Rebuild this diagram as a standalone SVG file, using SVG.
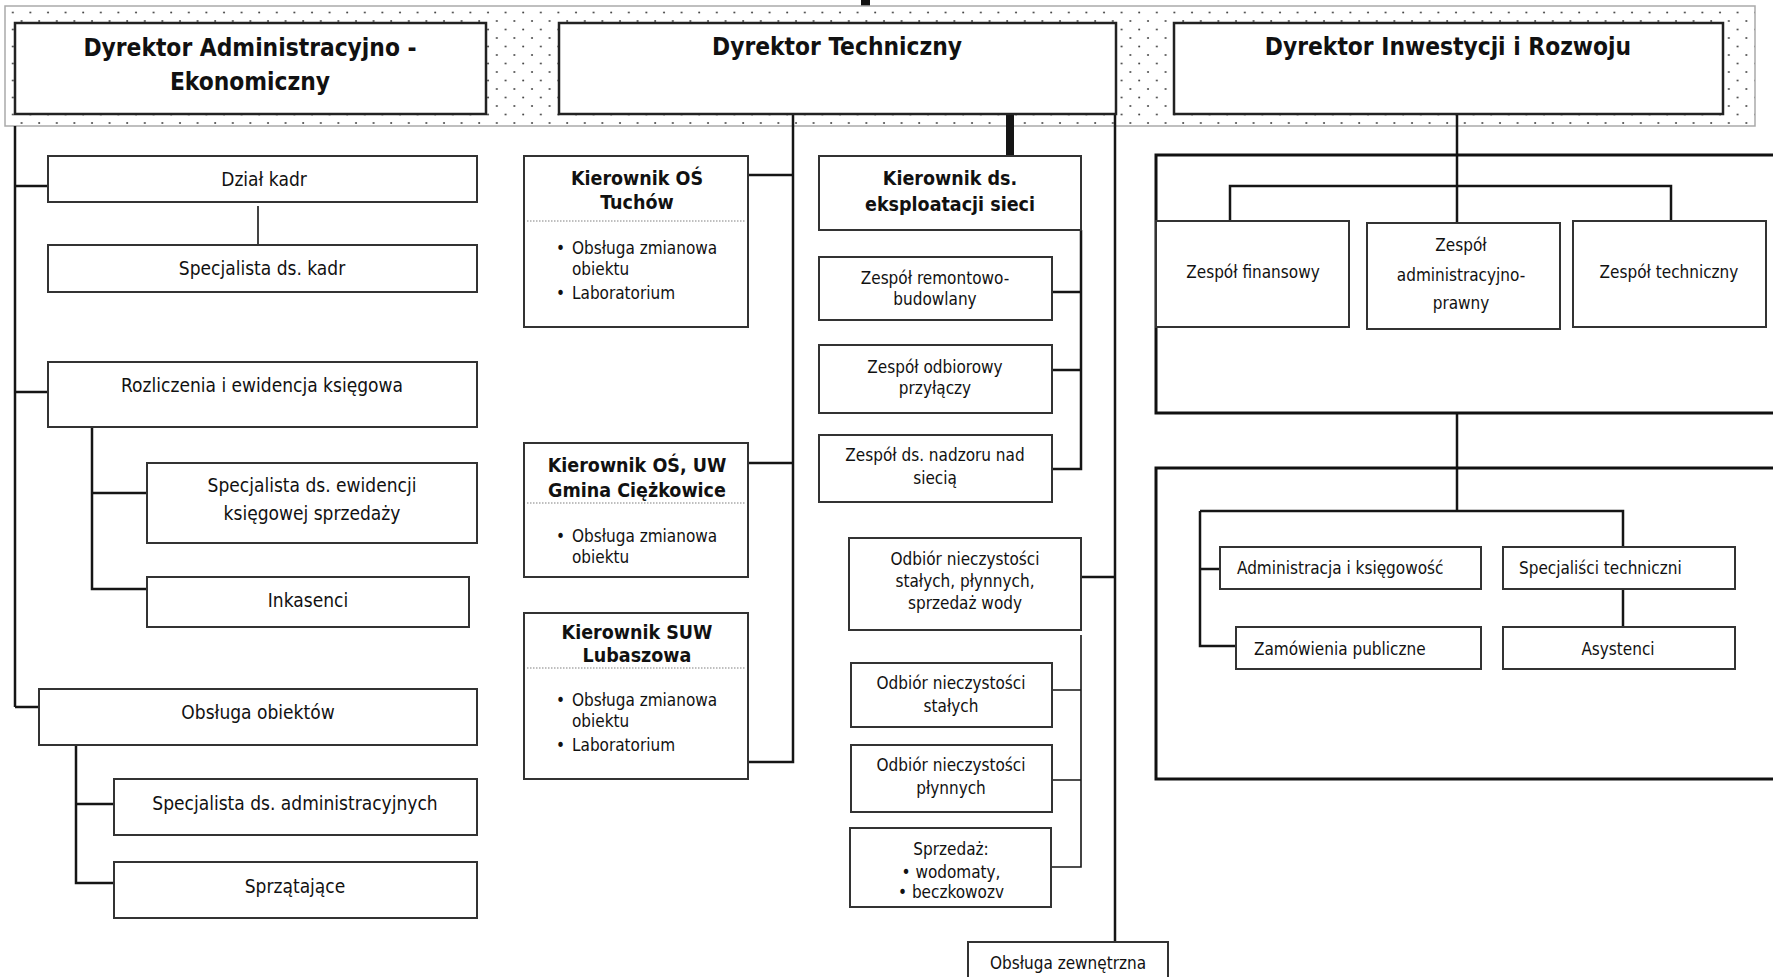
<svg xmlns="http://www.w3.org/2000/svg" width="1773" height="977" viewBox="0 0 1773 977">
<style>
text{font-family:'DejaVu Sans Condensed','DejaVu Sans',sans-serif;font-stretch:condensed;fill:#111}
.t19{font-size:19px;text-anchor:middle}
.t17{font-size:17px;text-anchor:middle}
.l17{font-size:17px}
.hb{font-size:24.3px;font-weight:bold;text-anchor:middle}
.kb{font-size:19.5px;font-weight:bold;text-anchor:middle}
.box{fill:#fff;stroke:#333;stroke-width:2}
.hbox{fill:#fff;stroke:#222;stroke-width:2.5}
.big{fill:none;stroke:#111;stroke-width:3}
.sep{stroke:#aaa;stroke-width:1.5;stroke-dasharray:1.5 1.5}
#connectors path{fill:none;stroke:#151515;stroke-width:2.5}
#connectors .thin{stroke-width:1.6}
#connectors .thick{stroke-width:8}
</style>
<defs>
<pattern id="dots" width="17.6" height="17" patternUnits="userSpaceOnUse">
<rect width="17.6" height="17" fill="#fff"/>
<circle cx="4" cy="4" r="1" fill="#444"/>
<circle cx="12.8" cy="12.5" r="1" fill="#444"/>
</pattern>
</defs>
<rect width="1773" height="977" fill="#fff"/>
<rect x="861" y="0" width="9" height="7" fill="#111"/>
<rect id="band" x="5" y="6" width="1750" height="120" fill="url(#dots)" stroke="#aaa" stroke-width="1.5"/>

<g id="connectors">
<path d="M15 126V707"/>
<path d="M15 186H48M15 392H48M15 707H39"/>
<path class="thin" d="M258 206V245"/>
<path d="M92 427V589H147M92 493H147"/>
<path d="M76 745V883H114M76 804H114"/>
<path d="M793 114V762H748M748 175H793M748 463H793"/>
<path class="thick" d="M1010 114V156"/>
<path d="M1081 230V469H1052M1052 292H1081M1052 370H1081"/>
<path d="M1115 114V942M1081 577H1115"/>
<path class="thin" d="M1081 635V867H1051M1052 690H1081M1052 780H1081"/>
<path d="M1457 114V223M1230 221V186H1671V221"/>
<path d="M1457 413V511M1200 511H1623V547M1200 511V646H1236M1200 569H1220"/>
<path d="M1623 589V627"/>
</g>

<g id="dyr-adm"><rect class="hbox" x="15" y="23" width="471" height="91"/>
<text class="hb" x="250" y="56">Dyrektor Administracyjno -</text>
<text class="hb" x="250" y="90">Ekonomiczny</text></g>
<g id="dyr-tech"><rect class="hbox" x="559" y="23" width="557" height="91"/>
<text class="hb" x="837" y="55">Dyrektor Techniczny</text></g>
<g id="dyr-inw"><rect class="hbox" x="1174" y="23" width="549" height="91"/>
<text class="hb" x="1448" y="55">Dyrektor Inwestycji i Rozwoju</text></g>

<g id="dzial-kadr"><rect class="box" x="48" y="156" width="429" height="46"/>
<text class="t19" x="264" y="186">Dział kadr</text></g>
<g id="spec-kadr"><rect class="box" x="48" y="245" width="429" height="47"/>
<text class="t19" x="262" y="275">Specjalista ds. kadr</text></g>
<g id="rozliczenia"><rect class="box" x="48" y="362" width="429" height="65"/>
<text class="t19" x="262" y="392">Rozliczenia i ewidencja księgowa</text></g>
<g id="spec-ewid"><rect class="box" x="147" y="463" width="330" height="80"/>
<text class="t19" x="312" y="492">Specjalista ds. ewidencji</text>
<text class="t19" x="312" y="520">księgowej sprzedaży</text></g>
<g id="inkasenci"><rect class="box" x="147" y="577" width="322" height="50"/>
<text class="t19" x="308" y="607">Inkasenci</text></g>
<g id="obsluga-obiektow"><rect class="box" x="39" y="689" width="438" height="56"/>
<text class="t19" x="258" y="719">Obsługa obiektów</text></g>
<g id="spec-adm"><rect class="box" x="114" y="779" width="363" height="56"/>
<text class="t19" x="295" y="810">Specjalista ds. administracyjnych</text></g>
<g id="sprzatajace"><rect class="box" x="114" y="862" width="363" height="56"/>
<text class="t19" x="295" y="893">Sprzątające</text></g>

<g id="kier-tuchow"><rect class="box" x="524" y="156" width="224" height="171"/>
<text class="kb" x="637" y="185">Kierownik OŚ</text>
<text class="kb" x="637" y="209">Tuchów</text>
<line class="sep" x1="527" y1="221" x2="745" y2="221"/>
<text class="l17" x="556" y="254">•</text><text class="l17" x="572" y="254">Obsługa zmianowa</text>
<text class="l17" x="572" y="275">obiektu</text>
<text class="l17" x="556" y="299">•</text><text class="l17" x="572" y="299">Laboratorium</text></g>
<g id="kier-ciezkowice"><rect class="box" x="524" y="443" width="224" height="134"/>
<text class="kb" x="637" y="472">Kierownik OŚ, UW</text>
<text class="kb" x="637" y="497">Gmina Ciężkowice</text>
<line class="sep" x1="527" y1="503" x2="745" y2="503"/>
<text class="l17" x="556" y="542">•</text><text class="l17" x="572" y="542">Obsługa zmianowa</text>
<text class="l17" x="572" y="563">obiektu</text></g>
<g id="kier-lubaszowa"><rect class="box" x="524" y="613" width="224" height="166"/>
<text class="kb" x="637" y="639">Kierownik SUW</text>
<text class="kb" x="637" y="662">Lubaszowa</text>
<line class="sep" x1="527" y1="668" x2="745" y2="668"/>
<text class="l17" x="556" y="706">•</text><text class="l17" x="572" y="706">Obsługa zmianowa</text>
<text class="l17" x="572" y="727">obiektu</text>
<text class="l17" x="556" y="751">•</text><text class="l17" x="572" y="751">Laboratorium</text></g>

<g id="kier-eksploatacji"><rect class="box" x="819" y="156" width="262" height="74"/>
<text class="kb" x="950" y="185">Kierownik ds.</text>
<text class="kb" x="950" y="211">eksploatacji sieci</text></g>
<g id="zesp-remont"><rect class="box" x="819" y="257" width="233" height="63"/>
<text class="t17" x="935" y="284">Zespół remontowo-</text>
<text class="t17" x="935" y="305">budowlany</text></g>
<g id="zesp-odbiorowy"><rect class="box" x="819" y="345" width="233" height="68"/>
<text class="t17" x="935" y="373">Zespół odbiorowy</text>
<text class="t17" x="935" y="394">przyłączy</text></g>
<g id="zesp-nadzoru"><rect class="box" x="819" y="435" width="233" height="67"/>
<text class="t17" x="935" y="461">Zespół ds. nadzoru nad</text>
<text class="t17" x="935" y="484">siecią</text></g>
<g id="odbior-all"><rect class="box" x="849" y="538" width="232" height="92"/>
<text class="t17" x="965" y="565">Odbiór nieczystości</text>
<text class="t17" x="965" y="587">stałych, płynnych,</text>
<text class="t17" x="965" y="609">sprzedaż wody</text></g>
<g id="odbior-stalych"><rect class="box" x="851" y="663" width="201" height="64"/>
<text class="t17" x="951" y="689">Odbiór nieczystości</text>
<text class="t17" x="951" y="712">stałych</text></g>
<g id="odbior-plynnych"><rect class="box" x="851" y="745" width="201" height="67"/>
<text class="t17" x="951" y="771">Odbiór nieczystości</text>
<text class="t17" x="951" y="794">płynnych</text></g>
<g id="sprzedaz"><rect class="box" x="850" y="828" width="201" height="79"/>
<text class="t17" x="951" y="855">Sprzedaż:</text>
<text class="t17" x="951" y="878">• wodomaty,</text>
<text class="t17" x="951" y="898">• beczkowozv</text></g>
<g id="obsluga-zewn"><rect class="box" x="968" y="942" width="200" height="45"/>
<text class="t17" x="1068" y="969">Obsługa zewnętrzna</text></g>

<g id="grupa-zespoly"><rect class="big" x="1156" y="155" width="630" height="258"/></g>
<g id="zesp-fin"><rect class="box" x="1156" y="221" width="193" height="106"/>
<text class="t17" x="1253" y="278">Zespół finansowy</text></g>
<g id="zesp-admpr"><rect class="box" x="1367" y="223" width="193" height="106"/>
<text class="t17" x="1461" y="251">Zespół</text>
<text class="t17" x="1461" y="281">administracyjno-</text>
<text class="t17" x="1461" y="309">prawny</text></g>
<g id="zesp-tech"><rect class="box" x="1573" y="221" width="193" height="106"/>
<text class="t17" x="1669" y="278">Zespół techniczny</text></g>

<g id="grupa-stanowiska"><rect class="big" x="1156" y="468" width="630" height="311"/></g>
<g id="adm-ksieg"><rect class="box" x="1220" y="547" width="261" height="42"/>
<text class="l17" x="1237" y="574">Administracja i księgowość</text></g>
<g id="spec-tech"><rect class="box" x="1503" y="547" width="232" height="42"/>
<text class="l17" x="1519" y="574">Specjaliści techniczni</text></g>
<g id="zamowienia"><rect class="box" x="1236" y="627" width="245" height="42"/>
<text class="l17" x="1254" y="655">Zamówienia publiczne</text></g>
<g id="asystenci"><rect class="box" x="1503" y="627" width="232" height="42"/>
<text class="t17" x="1618" y="655">Asystenci</text></g>
</svg>
